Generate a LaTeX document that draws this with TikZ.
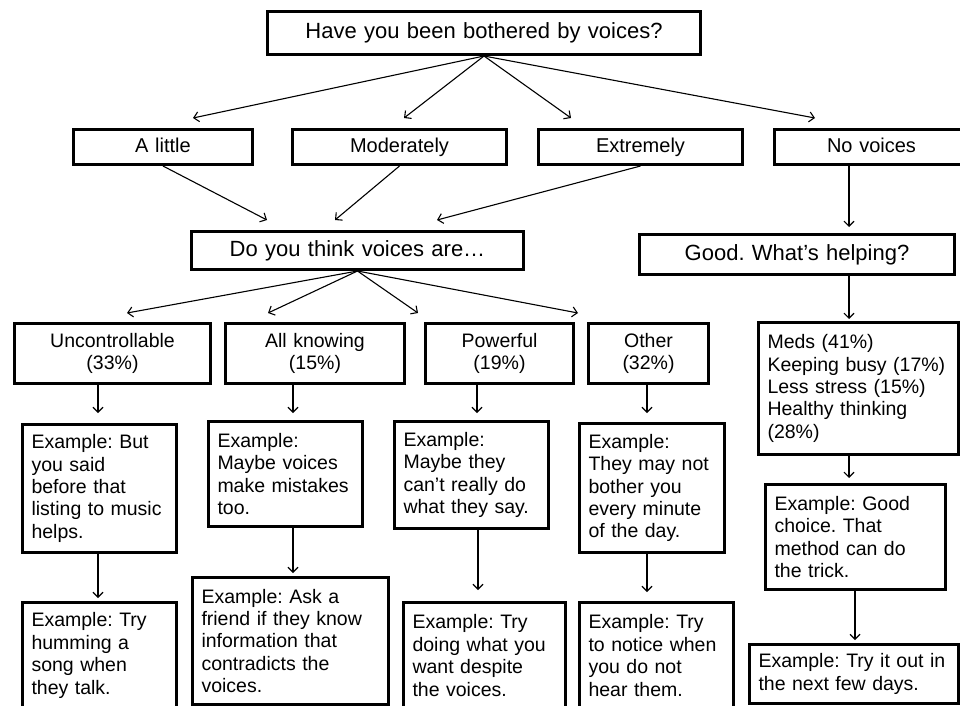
\documentclass[tikz,border=0pt]{standalone}
\usepackage{fontspec}
\setmainfont{Liberation Sans}
\usetikzlibrary{arrows.meta}
\frenchspacing
\tikzset{
  bx/.style={draw, line width=3pt, anchor=north west, inner xsep=9pt, inner ysep=0pt,
    font=\fontsize{19.5}{22.4}\selectfont},
  tbox/.style={bx, align=left},
  cbox/.style={bx, align=center},
  hd/.style={font=\fontsize{22}{25}\selectfont, text height=16pt, text depth=5pt},
  lv/.style={font=\fontsize{20}{23}\selectfont, text height=14.5pt, text depth=4.5pt},
  arr/.style={-{Straight Barb[length=5pt,width=10pt]}, line width=1.1pt},
}
\begin{document}
\begin{tikzpicture}[x=1pt,y=-1pt]
\path[use as bounding box] (0,0) rectangle (960,705);
\clip (0,0) rectangle (960,705);

% level 1
\node[cbox, hd, text width=415pt, minimum height=43pt] (top) at (266,10) {Have you been bothered by voices?};
% level 2
\node[cbox, lv, text width=161pt, minimum height=35pt] (alittle) at (72,128) {A little};
\node[cbox, lv, text width=196pt, minimum height=35pt] (moder) at (291,128) {Moderately};
\node[cbox, lv, text width=186pt, minimum height=35pt] (extr) at (537,128) {Extremely};
\node[cbox, lv, text width=176pt, minimum height=35pt] (novo) at (773,128) {No voices};
% level 3
\node[cbox, hd, text width=314pt, minimum height=38pt] (doyou) at (190,230) {Do you think voices are…};
\node[cbox, hd, text width=297pt, minimum height=40pt] (good) at (638,233) {Good. What’s helping?};
% level 4
\node[cbox, text width=178pt, minimum height=60pt] (unc) at (13,322) {Uncontrollable\\(33\%)};
\node[cbox, text width=161pt, minimum height=60pt] (allk) at (224,322) {All knowing\\(15\%)};
\node[cbox, text width=130pt, minimum height=60pt] (pow) at (424,322) {Powerful\\(19\%)};
\node[cbox, text width=102pt, minimum height=60pt] (oth) at (587,322) {Other\\(32\%)};
\node[tbox, text width=182pt, minimum height=132pt] (meds) at (757,321) {Meds (41\%)\\Keeping busy (17\%)\\Less stress (15\%)\\Healthy thinking\\(28\%)};
% level 5
\node[tbox, text width=136pt, minimum height=128pt] (uncA) at (21,423) {Example: But\\you said\\before that\\listing to music\\helps.};
\node[tbox, text width=136pt, minimum height=105pt] (allA) at (207,420) {Example:\\Maybe voices\\make mistakes\\too.};
\node[tbox, text width=136pt, minimum height=107pt] (powA) at (393,420) {Example:\\Maybe they\\can’t really do\\what they say.};
\node[tbox, text width=127pt, minimum height=129pt] (othA) at (578,422) {Example:\\They may not\\bother you\\every minute\\of the day.};
\node[tbox, text width=162pt, minimum height=105pt] (goodA) at (764,483) {Example: Good\\choice. That\\method can do\\the trick.};
% level 6
\node[tbox, text width=136pt, minimum height=106pt] (uncB) at (21,601) {Example: Try\\humming a\\song when\\they talk.};
\node[tbox, text width=178pt, minimum height=127pt] (allB) at (191,576) {Example: Ask a\\friend if they know\\information that\\contradicts the\\voices.};
\node[tbox, text width=144pt, minimum height=106pt] (powB) at (402,601) {Example: Try\\doing what you\\want despite\\the voices.};
\node[tbox, text width=136pt, minimum height=106pt] (othB) at (578,601) {Example: Try\\to notice when\\you do not\\hear them.};
\node[tbox, text width=191pt, minimum height=59pt] (goodB) at (748,643) {Example: Try it out in\\the next few days.};

% arrow ends
\coordinate (e1) at (193,118); \coordinate (e2) at (404,118);
\coordinate (e3) at (571,118); \coordinate (e4) at (815,118);
\coordinate (f1) at (267,220); \coordinate (f2) at (335,220); \coordinate (f3) at (437,220);
\coordinate (g0) at (849,227);
\coordinate (h1) at (127,313); \coordinate (h2) at (268,313);
\coordinate (h3) at (418,313); \coordinate (h4) at (578,313);
\coordinate (i0) at (849,319);
\coordinate (j1) at (98,413); \coordinate (j2) at (293,413);
\coordinate (j3) at (477,413); \coordinate (j4) at (647,413);
\coordinate (k0) at (849,478);
\coordinate (l1) at (98,598); \coordinate (l2) at (293,573);
\coordinate (l3) at (478,590); \coordinate (l4) at (647,592);
\coordinate (l5) at (855,640);

\draw[arr] (top.south) -- (e1);
\draw[arr] (top.south) -- (e2);
\draw[arr] (top.south) -- (e3);
\draw[arr] (top.south) -- (e4);
\draw[arr] (alittle.south) -- (f1);
\draw[arr] (moder.south) -- (f2);
\draw[arr] (extr.south) -- (f3);
\draw[arr] (novo.south -| g0) -- (g0);
\draw[arr] (doyou.south) -- (h1);
\draw[arr] (doyou.south) -- (h2);
\draw[arr] (doyou.south) -- (h3);
\draw[arr] (doyou.south) -- (h4);
\draw[arr] (good.south -| i0) -- (i0);
\draw[arr] (unc.south -| j1) -- (j1);
\draw[arr] (allk.south -| j2) -- (j2);
\draw[arr] (pow.south -| j3) -- (j3);
\draw[arr] (oth.south -| j4) -- (j4);
\draw[arr] (meds.south -| k0) -- (k0);
\draw[arr] (uncA.south -| l1) -- (l1);
\draw[arr] (allA.south -| l2) -- (l2);
\draw[arr] (powA.south -| l3) -- (l3);
\draw[arr] (othA.south -| l4) -- (l4);
\draw[arr] (goodA.south -| l5) -- (l5);
\end{tikzpicture}
\end{document}
